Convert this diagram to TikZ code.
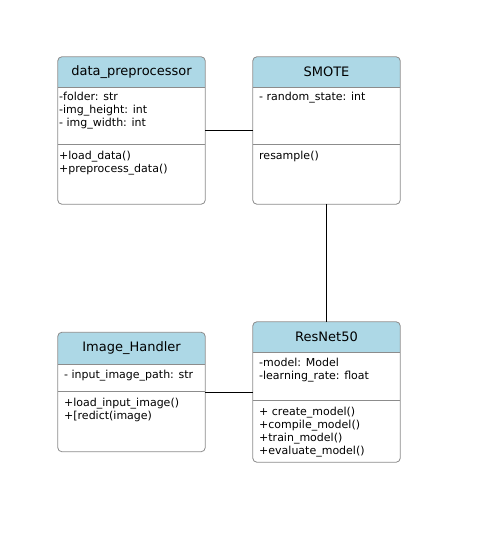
\documentclass[tikz,border=0pt]{standalone}
\usepackage{fontspec}
\setmainfont{DejaVu Sans}
\usetikzlibrary{positioning}
\definecolor{hdrblue}{HTML}{ADD8E6}
\definecolor{edgegray}{HTML}{8C8C8C}

\begin{document}
\begin{tikzpicture}[x=1pt, y=-1pt,
      cls/.style={rounded corners=4pt, minimum width=147pt, inner sep=0pt},
      part/.style={draw=edgegray, line width=0.8pt},
      title/.style={font=\fontsize{13}{15}\selectfont},
      txt/.style={anchor=north west, align=left, inner sep=0pt, font=\fontsize{11}{13}\selectfont},
      link/.style={draw=black, line width=0.8pt}]
  \useasboundingbox[fill=white] (0,0) rectangle (476,537);
  % class boxes
  \node[cls, minimum height=147pt] (dp) at (131.5,130.5) {};
  \node[cls, minimum height=147pt] (sm) at (326.5,130.5) {};
  \node[cls, minimum height=119pt] (ih) at (131.5,392) {};
  \node[cls, minimum height=140pt] (rn) at (326.5,392) {};
  % header, separators, border
  \foreach \c/\h/\s in {dp/87/144, sm/87/144, ih/364/391, rn/352/400}{
    \begin{scope}
      \clip[rounded corners=4pt] (\c.north west) rectangle (\c.south east);
      \fill[hdrblue] (\c.north west) rectangle (\c.east |- 0,\h);
    \end{scope}
    \draw[part] (\c.west |- 0,\h) -- (\c.east |- 0,\h);
    \draw[part] (\c.west |- 0,\s) -- (\c.east |- 0,\s);
    \draw[part, rounded corners=4pt] (\c.north west) rectangle (\c.south east);
  }
  % titles
  \node[title] (dpt) at (dp.north |- 0,72)    {data\_preprocessor};
  \node[title] (smt) at (sm.north |- 0,72)    {SMOTE};
  \node[title] (iht) at (ih.north |- 0,348.5) {Image\_Handler};
  \node[title] (rnt) at (rn.north |- 0,337)   {ResNet50};
  % attributes and methods
  \node[txt] (dpa) at (59,92)  {-folder: str\\-img\_height: int\\- img\_width: int};
  \node[txt] (dpm) at (59,151) {+load\_data()\\+preprocess\_data()};
  \node[txt] (sma) at (259,92) {- random\_state: int};
  \node[txt] (smm) at (259,151) {resample()};
  \node[txt] (iha) at (64,370) {- input\_image\_path: str};
  \node[txt] (ihm) at (64,398) {+load\_input\_image()\\+[redict(image)};
  \node[txt] (rna) at (259,358) {-model: Model\\-learning\_rate: float};
  \node[txt] (rnm) at (259,407) {+ create\_model()\\+compile\_model()\\+train\_model()\\+evaluate\_model()};
  % associations
  \draw[link] (dp.east) -- (sm.west);
  \draw[link] (sm.south) -- (rn.north);
  \draw[link] (ih.east) -- (rn.west);
\end{tikzpicture}
\end{document}
